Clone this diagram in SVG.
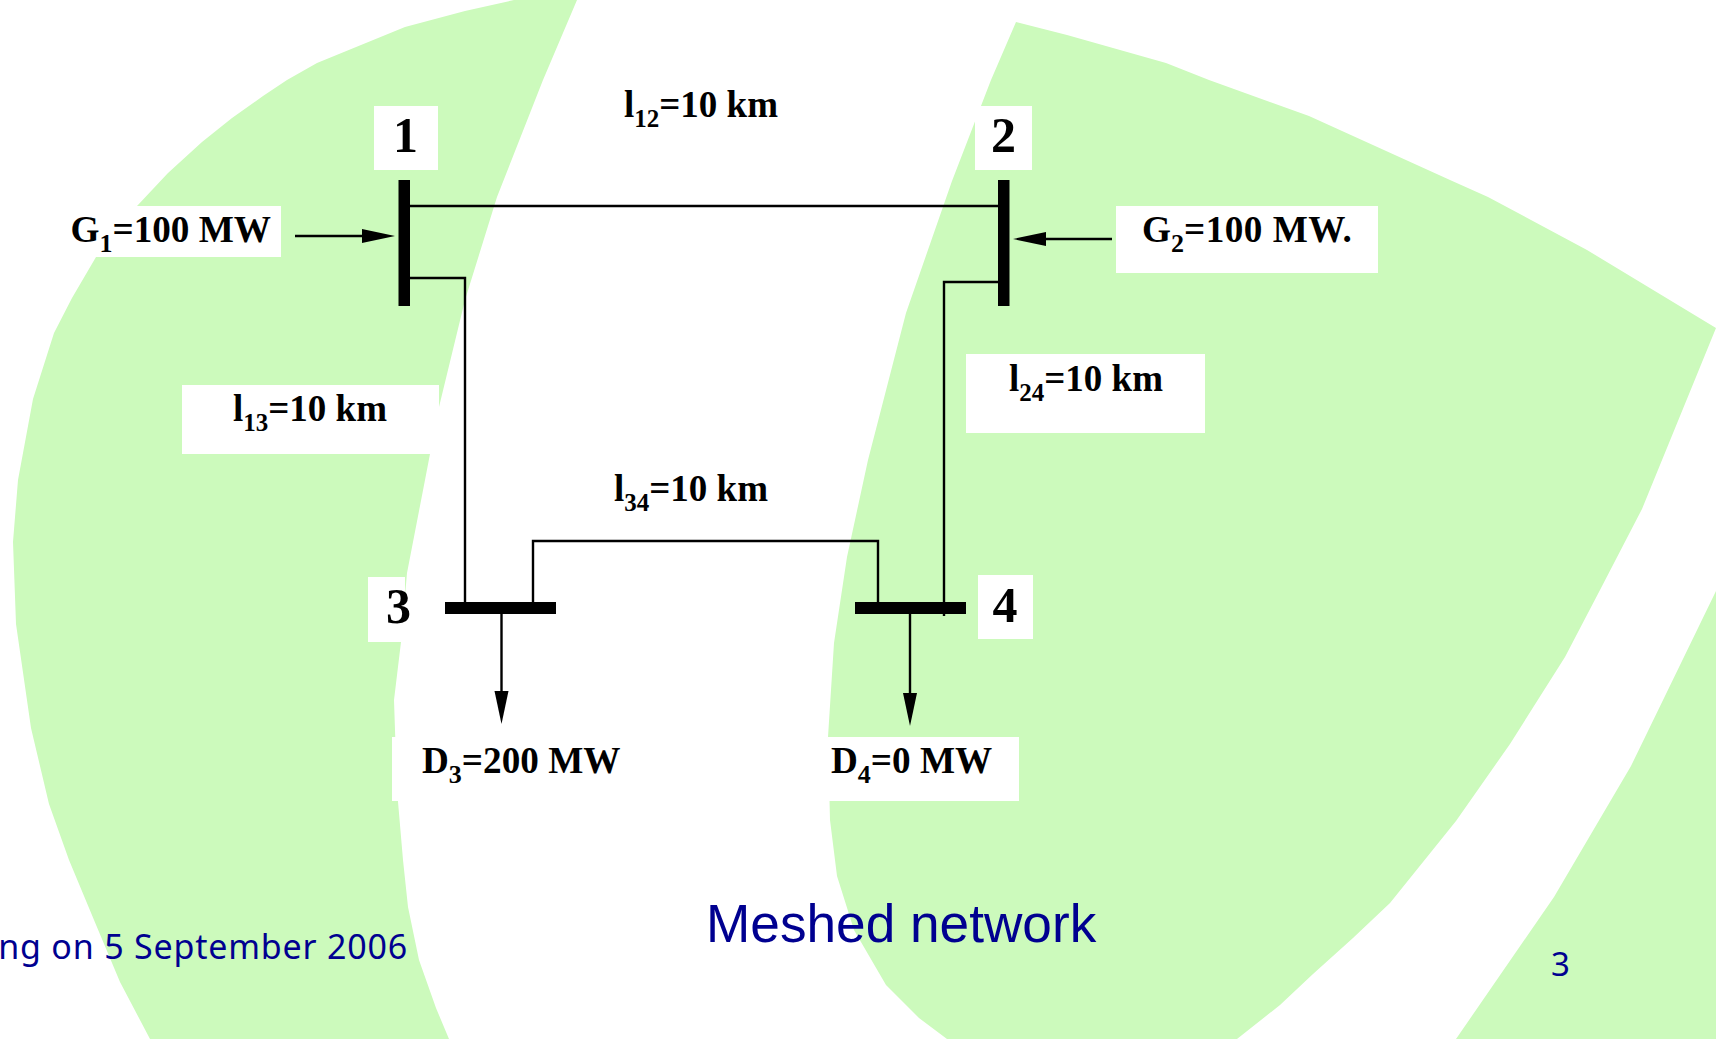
<svg xmlns="http://www.w3.org/2000/svg" width="1716" height="1039" viewBox="0 0 1716 1039">
<style>
.band{fill:#ccfabc}
.box{fill:#fff}
.bus{fill:#000}
.t{font-family:"Liberation Serif","Times New Roman",serif;font-weight:bold;font-size:37.200px;fill:#000}
.s{font-size:26px}
.l{font-size:37px}
.l .s{font-size:25px}
.n{font-family:"Liberation Serif","Times New Roman",serif;font-weight:bold;font-size:50px;fill:#000;text-anchor:middle}
.w{fill:none;stroke:#000;stroke-width:2.400}
.f{font-family:"Noto Sans","Liberation Sans",sans-serif;fill:#000090}
</style>
<defs>
<marker id="head" markerUnits="userSpaceOnUse" markerWidth="34" markerHeight="16" refX="3" refY="7" orient="auto"><path d="M0 0L33 7L0 14Z" fill="#000"/></marker>
</defs>
<rect width="1716" height="1039" fill="#fff"/>
<g id="background">
<polygon class="band" points="514,0 465,11 405,27 317,63 287,80 263,96 232,118 202,142 168,173 137,206 110,240 96,257 72,298 54,333 33,399 18,480 13,542 16,624 31,728 49,804 69,860 94,920 120,982 150,1039 449,1039 436,1008 419,960 408,907 403,860 397,790 394,700 401,642 407,573 425,480 439,407 465,300 497,197 543,80 577,0"/>
<polygon class="band" points="1016,22 1067,35 1166,63 1209,80 1309,116 1450,180 1488,197 1587,250 1716,328 1642,509 1600,590 1565,657 1510,744 1456,821 1390,903 1353,938 1313,974 1280,1005 1237,1039 947,1039 919,1018 886,985 854,930 837,876 830,820 828,737 834,643 847,557 868,460 906,313 952,181 991,80"/>
<polygon class="band" points="1716,591 1631,766 1554,897 1456,1039 1716,1039"/>
</g>
<g id="label-boxes">
<rect class="box" x="374" y="106" width="64" height="64"/>
<rect class="box" x="975" y="106" width="57" height="64"/>
<rect class="box" x="368" y="577" width="37" height="65"/>
<rect class="box" x="978" y="575" width="55" height="64"/>
<rect class="box" x="60" y="206" width="221" height="51"/>
<rect class="box" x="1116" y="206" width="262" height="67"/>
<rect class="box" x="182" y="385" width="257" height="69"/>
<rect class="box" x="966" y="354" width="239" height="79"/>
<rect class="box" x="392" y="737" width="248" height="64"/>
<rect class="box" x="828" y="737" width="191" height="64"/>
</g>
<g id="connectors">
<path class="w" d="M410 206H998"/>
<path class="w" d="M410 278H465V602"/>
<path class="w" d="M998 282H944V616"/>
<path class="w" d="M533 602V541H878V602"/>
<path class="w" d="M295 236H365" marker-end="url(#head)"/>
<path class="w" d="M1112 239H1043" marker-end="url(#head)"/>
<path class="w" d="M501.500 614V694" marker-end="url(#head)"/>
<path class="w" d="M910 614V696" marker-end="url(#head)"/>
</g>
<g id="node-1"><rect class="bus" x="398.500" y="180" width="11.500" height="126"/><text class="n" x="405.500" y="151.500">1</text></g>
<g id="node-2"><rect class="bus" x="998" y="180" width="11.500" height="126"/><text class="n" x="1003.500" y="151.500">2</text></g>
<g id="node-3"><rect class="bus" x="445" y="602" width="111" height="12"/><text class="n" x="398.500" y="622.500">3</text></g>
<g id="node-4"><rect class="bus" x="855" y="602" width="111" height="12"/><text class="n" x="1005" y="621.500">4</text></g>
<g id="labels">
<text class="t" x="70.500" y="242">G<tspan class="s" dy="10">1</tspan><tspan dy="-10">=100 MW</tspan></text>
<text class="t" x="1142" y="242">G<tspan class="s" dy="10">2</tspan><tspan dy="-10" letter-spacing="0.500">=100 MW.</tspan></text>
<text class="t l" x="624" y="117">l<tspan class="s" dy="10">12</tspan><tspan dy="-10">=10 km</tspan></text>
<text class="t l" x="233" y="421">l<tspan class="s" dy="10">13</tspan><tspan dy="-10">=10 km</tspan></text>
<text class="t l" x="1009" y="391">l<tspan class="s" dy="10">24</tspan><tspan dy="-10">=10 km</tspan></text>
<text class="t l" x="614" y="501">l<tspan class="s" dy="10">34</tspan><tspan dy="-10">=10 km</tspan></text>
<text class="t" x="422" y="773">D<tspan class="s" dy="10">3</tspan><tspan dy="-10">=200 MW</tspan></text>
<text class="t" x="831" y="773">D<tspan class="s" dy="10">4</tspan><tspan dy="-10">=0 MW</tspan></text>
</g>
<g id="footer">
<text class="f" x="408" y="959" font-size="34" letter-spacing="0.800" text-anchor="end">ng on 5 September 2006</text>
<text x="706" y="942" font-size="53.200" fill="#000090" font-family="'Liberation Sans',Arial,sans-serif">Meshed network</text>
<text class="f" x="1551" y="976" font-size="33">3</text>
</g>
</svg>
